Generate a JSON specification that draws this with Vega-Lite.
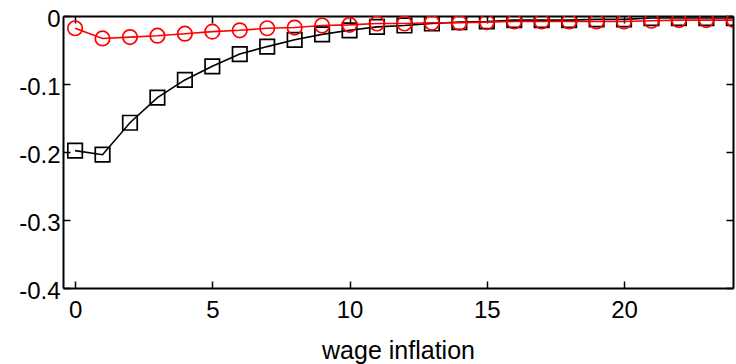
{
  "$schema": "https://vega.github.io/schema/vega-lite/v6.json",
  "autosize": {"type": "none"},
  "padding": {"left": 63, "top": 16, "right": 3, "bottom": 76},
  "width": 670,
  "height": 272,
  "background": "white",
  "config": {
    "view": {"stroke": null},
    "font": "Liberation Sans",
    "axis": {
      "domainColor": "black",
      "domainWidth": 2,
      "tickColor": "black",
      "tickWidth": 1.5,
      "tickSize": -7,
      "grid": false,
      "labelColor": "black",
      "labelFont": "Liberation Sans",
      "labelFontSize": 24,
      "titleFont": "Liberation Sans",
      "titleFontSize": 25,
      "titleFontWeight": "normal",
      "titleColor": "black"
    }
  },
  "data": {
    "values": [
      {"t": 0, "v": -0.198, "s": "A"},
      {"t": 1, "v": -0.204, "s": "A"},
      {"t": 2, "v": -0.157, "s": "A"},
      {"t": 3, "v": -0.12, "s": "A"},
      {"t": 4, "v": -0.094, "s": "A"},
      {"t": 5, "v": -0.074, "s": "A"},
      {"t": 6, "v": -0.056, "s": "A"},
      {"t": 7, "v": -0.045, "s": "A"},
      {"t": 8, "v": -0.035, "s": "A"},
      {"t": 9, "v": -0.027, "s": "A"},
      {"t": 10, "v": -0.021, "s": "A"},
      {"t": 11, "v": -0.016, "s": "A"},
      {"t": 12, "v": -0.014, "s": "A"},
      {"t": 13, "v": -0.011, "s": "A"},
      {"t": 14, "v": -0.009, "s": "A"},
      {"t": 15, "v": -0.008, "s": "A"},
      {"t": 16, "v": -0.006, "s": "A"},
      {"t": 17, "v": -0.006, "s": "A"},
      {"t": 18, "v": -0.006, "s": "A"},
      {"t": 19, "v": -0.005, "s": "A"},
      {"t": 20, "v": -0.005, "s": "A"},
      {"t": 21, "v": -0.003, "s": "A"},
      {"t": 22, "v": -0.003, "s": "A"},
      {"t": 23, "v": -0.003, "s": "A"},
      {"t": 24, "v": -0.003, "s": "A"},
      {"t": 0, "v": -0.018, "s": "B"},
      {"t": 1, "v": -0.033, "s": "B"},
      {"t": 2, "v": -0.031, "s": "B"},
      {"t": 3, "v": -0.029, "s": "B"},
      {"t": 4, "v": -0.026, "s": "B"},
      {"t": 5, "v": -0.023, "s": "B"},
      {"t": 6, "v": -0.021, "s": "B"},
      {"t": 7, "v": -0.018, "s": "B"},
      {"t": 8, "v": -0.017, "s": "B"},
      {"t": 9, "v": -0.014, "s": "B"},
      {"t": 10, "v": -0.013, "s": "B"},
      {"t": 11, "v": -0.011, "s": "B"},
      {"t": 12, "v": -0.011, "s": "B"},
      {"t": 13, "v": -0.01, "s": "B"},
      {"t": 14, "v": -0.01, "s": "B"},
      {"t": 15, "v": -0.009, "s": "B"},
      {"t": 16, "v": -0.008, "s": "B"},
      {"t": 17, "v": -0.008, "s": "B"},
      {"t": 18, "v": -0.008, "s": "B"},
      {"t": 19, "v": -0.008, "s": "B"},
      {"t": 20, "v": -0.008, "s": "B"},
      {"t": 21, "v": -0.007, "s": "B"},
      {"t": 22, "v": -0.006, "s": "B"},
      {"t": 23, "v": -0.006, "s": "B"},
      {"t": 24, "v": -0.006, "s": "B"}
    ]
  },
  "layer": [
    {
      "mark": {"type": "line", "strokeWidth": 1.6, "clip": true},
      "encoding": {
        "x": {"field": "t", "type": "quantitative", "title": "wage inflation",
              "scale": {"domain": [-0.44, 23.97], "nice": false, "zero": false},
              "axis": {"orient": "bottom", "values": [0, 5, 10, 15, 20], "labelPadding": 17, "titlePadding": 16}},
        "y": {"field": "v", "type": "quantitative", "title": null,
              "scale": {"domain": [-0.4, 0], "nice": false},
              "axis": {"orient": "left", "values": [-0.4, -0.3, -0.2, -0.1, 0], "labelExpr": "replace(datum.label, '\u2212', '-')", "format": "~g", "labelPadding": 10, "labelOffset": 3}},
        "color": {"field": "s", "type": "nominal", "legend": null,
                  "scale": {"domain": ["A", "B"], "range": ["#000000", "#ff0000"]}}
      }
    },
    {
      "mark": {"type": "point", "filled": false, "strokeWidth": 1.7, "size": 210, "clip": true, "opacity": 1},
      "encoding": {
        "x": {"field": "t", "type": "quantitative",
              "axis": {"orient": "top", "values": [0, 5, 10, 15, 20], "labels": false, "title": null}},
        "y": {"field": "v", "type": "quantitative",
              "axis": {"orient": "right", "values": [-0.4, -0.3, -0.2, -0.1, 0], "labels": false, "title": null}},
        "color": {"field": "s", "type": "nominal", "legend": null},
        "shape": {"field": "s", "type": "nominal", "legend": null,
                  "scale": {"domain": ["A", "B"], "range": ["square", "circle"]}}
      }
    }
  ],
  "resolve": {"axis": {"x": "independent", "y": "independent"}}
}
